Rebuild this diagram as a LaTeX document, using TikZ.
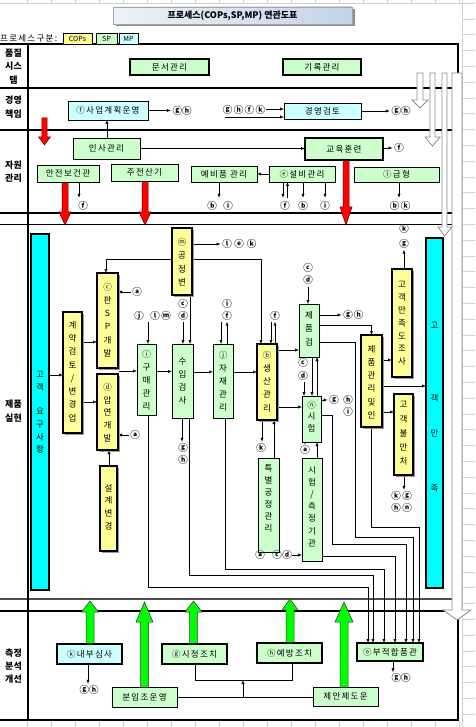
\documentclass[tikz,border=0pt]{standalone}
\usepackage{fontspec}
\setmainfont{Noto Sans CJK KR}
\newfontfamily\kr{Noto Sans CJK KR}
\newfontfamily\krs{Noto Sans CJK KR}[LetterSpace=15]
\usetikzlibrary{arrows.meta,shadows}
\pgfdeclarelayer{back}
\pgfdeclarelayer{conn}
\pgfsetlayers{back,conn,main}
\definecolor{gfill}{HTML}{CCFFCC}
\definecolor{yfill}{HTML}{FFFF99}
\definecolor{cfill}{HTML}{CCFFFF}
\definecolor{cyanb}{HTML}{00FFFF}
\definecolor{redA}{HTML}{FF0000}
\definecolor{greenA}{HTML}{00FF00}
\definecolor{gridc}{HTML}{D0D0D0}
\definecolor{hollowc}{HTML}{8C8C8C}
\definecolor{titleL}{HTML}{EEF2F8}
\definecolor{titleR}{HTML}{C4D3E8}

\newcommand\bx[7]{%
  \pgfmathsetmacro\bxw{#4-#2}%
  \pgfmathsetmacro\bxh{#5-#3}%
  \pgfmathsetmacro\bxcx{(#2+#4)/2}%
  \pgfmathsetmacro\bxcy{(#3+#5)/2}%
  \node[#6,minimum width=\bxw pt,minimum height=\bxh pt] (#1) at (\bxcx,\bxcy) {#7};}
\newcommand\vt[5]{\node[vtx,font=\kr\fontsize{8.5}{#4}\selectfont] (#1) at (#2,#3) {#5};}
% hollow arrow: x1 x2 ytop ybase hx1 hx2 ytip
\newcommand\harrow[7]{\filldraw[fill=white,draw=hollowc,line width=0.8pt]
  (#1,#3) -- (#1,#4) -- (#5,#4) -- ({(#1+#2)/2},#7) -- (#6,#4) -- (#2,#4) -- (#2,#3) -- cycle;}
% red down arrow: xc ytop ybase ytip halfshaft halfhead
\newcommand\rarrow[6]{\filldraw[fill=redA,draw=black!60!red,line width=0.5pt]
  ({#1-#5},#2) -- ({#1-#5},#3) -- ({#1-#6},#3) -- (#1,#4) -- ({#1+#6},#3) -- ({#1+#5},#3) -- ({#1+#5},#2) -- cycle;}
% green up arrow: xc ybottom ybase ytip halfshaft halfhead
\newcommand\garrow[6]{\filldraw[fill=greenA,draw=black!80,line width=0.5pt]
  ({#1-#5},#2) -- ({#1-#5},#3) -- ({#1-#6},#3) -- (#1,#4) -- ({#1+#6},#3) -- ({#1+#5},#3) -- ({#1+#5},#2) -- cycle;}

\begin{document}
\begin{tikzpicture}[x=1pt,y=-1pt,
  box/.style={draw=black,inner sep=0pt,outer sep=0pt,line width=0.7pt},
  bthick/.style={line width=1.8pt},
  gb/.style={box,fill=gfill},
  cb/.style={box,fill=cfill},
  yb/.style={box,fill=yfill,bthick,drop shadow={shadow xshift=2pt,shadow yshift=-2pt,fill=black!40,opacity=1}},
  hb/.style={font=\krs\fontsize{8.5}{10}\selectfont},
  vtx/.style={align=center,inner sep=0pt},
  lb/.style={inner sep=0pt,font=\kr\bfseries\fontsize{9.5}{10}\selectfont},
  rowlab/.style={align=center,inner sep=0pt},
  con/.style={line width=0.6pt},
  arr/.style={con,-{Latex[length=4pt,width=3.2pt]}}]
\useasboundingbox (0,0) rectangle (475,727);

% ---------------- nodes (main layer) ----------------
% header
\bx{title}{113}{7}{352}{24}{box,draw=black!35,line width=0.4pt,left color=titleL,right color=titleR,drop shadow={shadow xshift=2.5pt,shadow yshift=-2.5pt,fill=black!45,opacity=1},font=\kr\bfseries\fontsize{9}{10}\selectfont}{프로세스(COPs,SP,MP) 연관도표}
\node[anchor=west,inner sep=0pt,font=\krs\fontsize{8.5}{10}\selectfont] (gubun) at (0,38) {프로세스구분:};
\bx{cops}{63}{33}{92}{44}{box,line width=0.6pt,fill=yfill,font=\kr\fontsize{7}{8}\selectfont}{COPs}
\bx{sp}{96}{33}{117}{44}{box,line width=0.6pt,fill=gfill,font=\kr\fontsize{7}{8}\selectfont}{SP}
\bx{mp}{119}{33}{138}{44}{box,line width=0.6pt,fill=cfill,font=\kr\fontsize{7}{8}\selectfont}{MP}

% row labels
\node[rowlab,font=\kr\bfseries\fontsize{9}{13.5}\selectfont] (rl1) at (13.5,66.5) {품질\\시스\\템};
\node[rowlab,font=\kr\bfseries\fontsize{9}{14}\selectfont] (rl2) at (13.5,107.5) {경영\\책임};
\node[rowlab,font=\kr\bfseries\fontsize{9}{13}\selectfont] (rl3) at (13.5,171.5) {자원\\관리};
\node[rowlab,font=\kr\bfseries\fontsize{9}{14}\selectfont] (rl4) at (13.5,411) {제품\\실현};
\node[rowlab,font=\kr\bfseries\fontsize{9}{13}\selectfont] (rl5) at (13.5,666) {측정\\분석\\개선};

% quality system / management / resources
\bx{munseo}{130}{59}{209}{75}{gb,bthick,hb}{문서관리}
\bx{girok}{283}{59}{361}{75}{gb,bthick,hb}{기록관리}
\bx{saeop}{68}{101}{148}{120}{cb,hb}{ⓕ사업계획운영}
\bx{gyeong}{284}{103}{361}{119}{cb,hb}{경영검토}
\bx{insa}{73}{138}{140}{159}{gb,hb}{인사관리}
\bx{gyoyuk}{305}{138}{383}{160}{gb,bthick,hb}{교육훈련}
\bx{anjeon}{37}{165}{99}{182}{gb,hb}{안전보건관}
\bx{jujeon}{111}{164}{178}{181}{gb,hb}{주전산기}
\bx{yebi}{191}{166}{257}{182}{gb,hb}{예비품 관리}
\bx{seolbi}{269}{166}{335}{182}{gb,hb}{ⓔ설비관리}
\bx{geum}{354}{167}{439}{182}{gb,hb}{ⓛ금형}

% product realisation boxes
\bx{req}{31}{234}{49}{590}{box,fill=cyanb,bthick}{}
\bx{gyeyak}{63}{312}{82}{433}{yb}{}
\bx{pansp}{97}{273}{118}{368}{yb}{}
\bx{apyeon}{97}{374}{118}{450}{yb}{}
\bx{seolgye}{100}{466}{117}{551}{yb}{}
\bx{gongjeong}{172}{228}{192}{295}{yb}{}
\bx{gumae}{137}{344}{156}{415}{gb}{}
\bx{suip}{172}{344}{193}{418}{gb}{}
\bx{jajae}{213}{344}{233}{418}{gb}{}
\bx{saengsan}{257}{344}{277}{420}{yb}{}
\bx{teukbyeol}{258}{458}{279}{552}{gb}{}
\bx{jepumgeom}{299}{304}{319}{357}{gb}{}
\bx{siheom}{302}{396}{321}{442}{gb}{}
\bx{sicheuk}{302}{458}{322}{561}{gb}{}
\bx{jepumgwanri}{361}{335}{382}{427}{yb}{}
\bx{josa}{392}{269}{412}{377}{yb}{}
\bx{bulman}{394}{394}{413}{475}{yb}{}
\bx{manjok}{426}{238}{443}{588}{box,fill=cyanb,bthick}{}

\vt{reqT}{40}{412.5}{12.8}{고\\객\\[11pt]요\\구\\사\\항}
\vt{gyeyakT}{72.5}{371.5}{13.3}{계\\약\\검\\토\\/\\변\\경\\업}
\vt{panspT}{107.5}{320}{13.2}{ⓒ\\판\\S\\P\\개\\발}
\vt{apyeonT}{107.5}{412.5}{12.75}{ⓓ\\압\\연\\개\\발}
\vt{seolgyeT}{108.5}{507}{12.7}{설\\계\\변\\경}
\vt{gongT}{182}{262}{13.3}{ⓜ\\공\\정\\변}
\vt{gumaeT}{146.5}{380}{13}{ⓘ\\구\\매\\관\\리}
\vt{suipT}{182.5}{381}{12.7}{수\\입\\검\\사}
\vt{jajaeT}{223}{381}{13}{ⓙ\\자\\재\\관\\리}
\vt{saengT}{267}{381.5}{13.2}{ⓑ\\생\\산\\관\\리}
\vt{teukT}{268.5}{498}{12}{특\\별\\공\\정\\관\\리}
\vt{jgeomT}{309}{328.5}{13.5}{제\\품\\검}
\vt{siheomT}{311.5}{416.5}{11.5}{ⓝ\\시\\험}
\vt{sicheukT}{312}{506.5}{12.2}{시\\험\\/\\측\\정\\기\\관}
\vt{jgwanT}{371.5}{382}{13.2}{제\\품\\관\\리\\및\\인}
\vt{josaT}{402}{323.5}{12.8}{고\\객\\만\\족\\도\\조\\사}
\vt{bulT}{403.5}{433.5}{14.25}{고\\객\\불\\만\\처}
\node[vtx,font=\kr\fontsize{8.5}{10}\selectfont] (gm1) at (434.5,325) {고};
\node[vtx,font=\kr\fontsize{8.5}{10}\selectfont] (gm2) at (434.5,398) {객};
\node[vtx,font=\kr\fontsize{8.5}{10}\selectfont] (gm3) at (434.5,433) {만};
\node[vtx,font=\kr\fontsize{8.5}{10}\selectfont] (gm4) at (434.5,488) {족};

% measurement boxes
\bx{naebu}{57}{644}{122}{664}{cb,bthick,hb}{ⓚ내부심사}
\bx{sijeong}{162}{644}{227}{664}{gb,bthick,hb}{ⓖ시정조치}
\bx{yebang}{257}{643}{322}{663}{gb,bthick,hb}{ⓗ예방조치}
\bx{bunim}{112}{687}{177}{707}{gb,hb}{분임조운영}
\bx{jean}{313}{687}{378}{706}{gb,hb}{제안제도운}
\bx{bujeok}{357}{643}{423}{661}{gb,bthick,hb}{ⓞ부적합품관}

% small labels
\node[lb] (gh1) at (182,110.5) {ⓖⓗ};
\node[lb,font=\krs\bfseries\fontsize{9.5}{10}\selectfont] (gh2) at (244,110) {ⓖⓗⓕⓚ};
\node[lb] (gh3) at (401,111) {ⓖⓗ};
\node[lb] (f1) at (399,148) {ⓕ};
\node[lb] (f2) at (83,206) {ⓕ};
\node[lb] (b1) at (212,206) {ⓑ};
\node[lb] (i1) at (228,206) {ⓘ};
\node[lb] (f3) at (285,206) {ⓕ};
\node[lb] (b2) at (303,206) {ⓑ};
\node[lb] (i2) at (325,206) {ⓘ};
\node[lb] (b3) at (394.5,206) {ⓑ};
\node[lb] (k1) at (405.5,206) {ⓚ};
\node[lb] (a1) at (137,292) {ⓐ};
\node[lb] (a2) at (135,435) {ⓐ};
\node[lb] (l1) at (227,244) {ⓛ};
\node[lb] (e1) at (239,244) {ⓔ};
\node[lb] (k2) at (251.5,244) {ⓚ};
\node[lb] (j3) at (139,316) {ⓙ};
\node[lb] (l2) at (155,316) {ⓛ};
\node[lb] (m1) at (166,316) {ⓜ};
\node[lb] (c1) at (183,304) {ⓒ};
\node[lb] (d1) at (183,316) {ⓓ};
\node[lb] (g1) at (183,448) {ⓖ};
\node[lb] (h1) at (183,460) {ⓗ};
\node[lb] (i3) at (227,304) {ⓘ};
\node[lb] (f4) at (227,316) {ⓕ};
\node[lb] (f5) at (275,316) {ⓕ};
\node[lb] (k3) at (261,448) {ⓚ};
\node[lb] (c2) at (308,268) {ⓒ};
\node[lb] (d2) at (308,279.5) {ⓓ};
\node[lb] (g2) at (348,315) {ⓖ};
\node[lb] (h2) at (358.5,315) {ⓗ};
\node[lb] (c3) at (303,363) {ⓒ};
\node[lb] (d3) at (303,376) {ⓓ};
\node[lb] (g3) at (334,400) {ⓖ};
\node[lb] (h3) at (348,400) {ⓗ};
\node[lb] (i4) at (348,412) {ⓘ};
\node[lb] (a3) at (305,449.5) {ⓐ};
\node[lb] (a4) at (260,555) {ⓐ};
\node[lb] (c4) at (277,555) {ⓒ};
\node[lb] (d4) at (287,555) {ⓓ};
\node[lb] (k4) at (404,229) {ⓚ};
\node[lb] (g4) at (404,244) {ⓖ};
\node[lb] (k5) at (396,496) {ⓚ};
\node[lb] (g5) at (407,496) {ⓖ};
\node[lb] (h5) at (396,508) {ⓗ};
\node[lb] (n1) at (407,508) {ⓝ};
\node[lb] (gh6) at (89,690) {ⓖⓗ};
\node[lb] (gh7) at (401,677.5) {ⓖⓗ};

\coordinate (j1) at (106,259);
\coordinate (j2) at (261,259);
\coordinate (gap) at (118.5,371);
\coordinate (up1) at (243,697);
\coordinate (up2) at (243,680);
\coordinate (mg) at (225,117);

% ---------------- background: grid, frame, hollow arrows ----------------
\begin{pgfonlayer}{back}
\foreach \i in {0,...,18} {
  \draw[gridc,line width=0.5pt] ({27.7+24*\i},0) -- ({27.7+24*\i},3);
  \draw[gridc,line width=0.5pt] ({27.7+24*\i},721) -- ({27.7+24*\i},727);
}
\draw[gridc,line width=0.5pt] (0,3) -- (475,3);
\draw[gridc,line width=0.5pt] (462,0) -- (462,727);
\foreach \i in {0,...,45} {
  \draw[gridc,line width=0.5pt] (462,{3+15.8*\i}) -- (475,{3+15.8*\i});
}
\draw[line width=2pt] (0,44.5) -- (458,44.5);
\draw[line width=2pt] (0,88.5) -- (458,88.5);
\draw[line width=2pt] (0,130) -- (458,130);
\draw[line width=2.4pt] (0,213) -- (458,213);
\draw[line width=1pt] (0,224.5) -- (458,224.5);
\draw[line width=2.4pt,black!70] (0,599) -- (458,599);
\draw[line width=1.2pt] (0,611) -- (458,611);
\draw[line width=2pt] (0,720) -- (459,720);
\draw[line width=2pt] (27.5,44.5) -- (27.5,720);
\draw[line width=2pt] (458,43.5) -- (458,721);
\harrow{417}{423}{73}{100}{412}{428}{108}
\harrow{430}{435}{73}{137}{425}{440}{146}
\harrow{442}{447}{73}{227}{438}{452}{236}
\harrow{452}{462}{73}{610}{443}{471}{620}
\end{pgfonlayer}

% ---------------- connectors ----------------
\begin{pgfonlayer}{conn}
% big arrows
\rarrow{44.5}{118}{137}{145}{2.7}{6}
\rarrow{65}{182}{212}{225}{3}{6}
\rarrow{145}{181}{212}{225}{3}{6}
\rarrow{346}{160}{207}{225}{3}{6}
\garrow{90}{644}{612}{601}{4}{8.5}
\garrow{144.5}{687}{622}{602}{4}{8.5}
\garrow{193.5}{644}{612}{601}{3.8}{8.5}
\garrow{290}{643}{610}{599}{4}{8}
\garrow{344}{687}{622}{602}{4}{9}

% management
\draw[arr,shorten >=1.5pt] (saeop.east) -- (saeop.east -| gh1.west);
\draw[arr,shorten <=1pt] (gh2.east |- 0,109) -- (gyeong.west |- 0,109);
\draw[arr] (mg) -- (gyeong.west |- mg);
\draw[arr,shorten >=1.5pt] (gyeong.east) -- (gyeong.east -| gh3.west);
\draw[arr] (insa.north -| 107,0) -- (saeop.south -| 107,0);
% resources
\draw[arr] (insa.east) -- (insa.east -| gyoyuk.west);
\draw[arr,shorten >=1.5pt] (gyoyuk.east |- f1) -- (f1.west);
\draw[arr,shorten >=3.5pt] (anjeon.south -| 79,0) -- (f2.north -| 79,0);
\draw[arr,shorten >=3.5pt] (yebi.south -| 219,0) -- (b1.north -| 219,0);
\draw[arr] (seolbi.west |- 0,174) -- (yebi.east |- 0,174);
\draw[arr,shorten >=3.5pt] (seolbi.south -| 283,0) -- (f3.north -| 283,0);
\draw[arr,shorten <=3.5pt] (f3.north -| 287.5,0) -- (seolbi.south -| 287.5,0);
\draw[arr,shorten >=3.5pt] (seolbi.south -| 303,0) -- (b2.north -| 303,0);
\draw[arr,shorten >=3.5pt] (seolbi.south -| 325,0) -- (i2.north -| 325,0);
\draw[arr,shorten >=3.5pt] (geum.south -| 399,0) -- (b3.north -| 399,0);
% product realisation
\draw[arr] (req.east |- 0,375) -- (gyeyak.west |- 0,375);
\draw[arr] (gyeyak.east |- 0,342) -- (pansp.west |- 0,342);
\draw[arr] (gyeyak.east |- 0,402) -- (apyeon.west |- 0,402);
\draw[arr,shorten <=1pt] (a1.west) -- (pansp.east |- a1);
\draw[arr,shorten <=1pt] (a2.west) -- (apyeon.east |- a2);
\draw[arr] (seolgye.north -| 109,0) -- (apyeon.south -| 109,0);
\draw[arr,shorten >=1.5pt] (gongjeong.east |- 0,244) -- (l1.west |- 0,244);
\draw[con] (j1) -- (j2);
\draw[arr] (j1) -- (j1 |- pansp.north);
\draw[arr] (j2) -- (j2 |- saengsan.north);
\draw[arr] (gongjeong.south -| 190,0) -- (suip.north -| 190,0);
\draw[arr,shorten <=1pt] (j3.south -| 148,0) -- (gumae.north -| 148,0);
\draw[arr] (gap) -- (gumae.west |- gap);
\draw[arr] (gumae.east |- 0,371.5) -- (suip.west |- 0,371.5);
\draw[arr] (suip.east |- 0,372) -- (jajae.west |- 0,372);
\draw[arr] (jajae.east |- 0,372) -- (saengsan.west |- 0,372);
\draw[arr,shorten <=1pt] (d1.south) -- (suip.north -| d1);
\draw[arr,shorten >=1.5pt] (suip.south -| 182,0) -- (g1.north -| 182,0);
\draw[arr,shorten <=1pt] (f4.south -| 221,0) -- (jajae.north -| 221,0);
\draw[arr,shorten >=1pt] (jajae.north -| 227,0) -- (f4.south -| 227,0);
\draw[arr,shorten <=1pt] (f5.south -| 271,0) -- (saengsan.north -| 271,0);
\draw[arr,shorten >=1pt] (saengsan.north -| 275,0) -- (f5.south -| 275,0);
\draw[arr] (saengsan.east |- 0,350) -- (jepumgeom.west |- 0,350);
\draw[arr] (saengsan.east |- 0,407) -- (siheom.west |- 0,407);
\draw[arr,shorten >=1.5pt] (saengsan.south -| 262,0) -- (k3.north -| 262,0);
\draw[arr] (teukbyeol.north -| 274,0) -- (saengsan.south -| 274,0);
\draw[arr,shorten <=3pt] (d2.south) -- (jepumgeom.north -| d2);
\draw[arr,shorten >=1.5pt] (jepumgeom.east |- 0,315) -- (g2.west |- 0,315);
\draw[arr] (jepumgeom.east |- 0,325) -| (jepumgwanri.north);
\draw[arr] (jepumgeom.east |- 0,342) -| (355,537) -| (bujeok.north -| 413,0);
\draw[arr] (jepumgeom.south -| 312,0) -- (siheom.north -| 312,0);
\draw[arr] (siheom.north -| 317,0) -- (jepumgeom.south -| 317,0);
\draw[arr,shorten <=1pt] (d3.south -| 304,0) -- (siheom.north -| 304,0);
\draw[arr,shorten >=1.5pt] (siheom.east |- g3) -- (g3.west);
\draw[arr] (siheom.east |- 0,415) -| (332,544) -| (bujeok.north -| 406,0);
\draw[arr] (siheom.south -| 305,0) -- (a3.north);
\draw[arr] (sicheuk.north -| 317,0) -- (siheom.south -| 317,0);
\draw[arr,shorten <=0.5pt] (d4.east) -- (sicheuk.west |- d4);
\draw[arr] (sicheuk.east |- 0,556) -| (bujeok.north -| 395,0);
\draw[arr] (jepumgwanri.east |- 0,360) -- (josa.west |- 0,360);
\draw[arr] (jepumgwanri.east |- 0,386) -- (manjok.west |- 0,386);
\draw[arr] (jepumgwanri.east |- 0,412) -- (bulman.west |- 0,412);
\draw[arr] (jepumgwanri.south) |- (419,527) -- (bujeok.north -| 419,0);
\draw[arr,shorten >=1pt] (josa.north -| g4) -- (g4.south);
\draw[arr,shorten >=1.5pt] (bulman.south -| 404,0) -- (g5.north -| 404,0);
\draw[arr] (gumae.south -| 148,0) |- (368,587) -- (bujeok.north -| 368,0);
\draw[arr] (suip.south -| 189,0) |- (373,575) -- (bujeok.north -| 373,0);
\draw[arr] (jajae.south -| 225,0) |- (384,569) -- (bujeok.north -| 384,0);
% measurement
\draw[arr,shorten >=1.5pt] (naebu.south -| 88,0) -- (gh6.north -| 88,0);
\draw[con] (sijeong.south -| 195,0) |- (292,680) -- (yebang.south -| 292,0);
\draw[con] (bunim.east |- 0,697) -- (jean.west |- 0,697);
\draw[arr] (up1) -- (up2);
\draw[arr,shorten >=0.5pt] (bujeok.south -| 393,0) -- (gh7.north -| 393,0);
\end{pgfonlayer}
\end{tikzpicture}
\end{document}
